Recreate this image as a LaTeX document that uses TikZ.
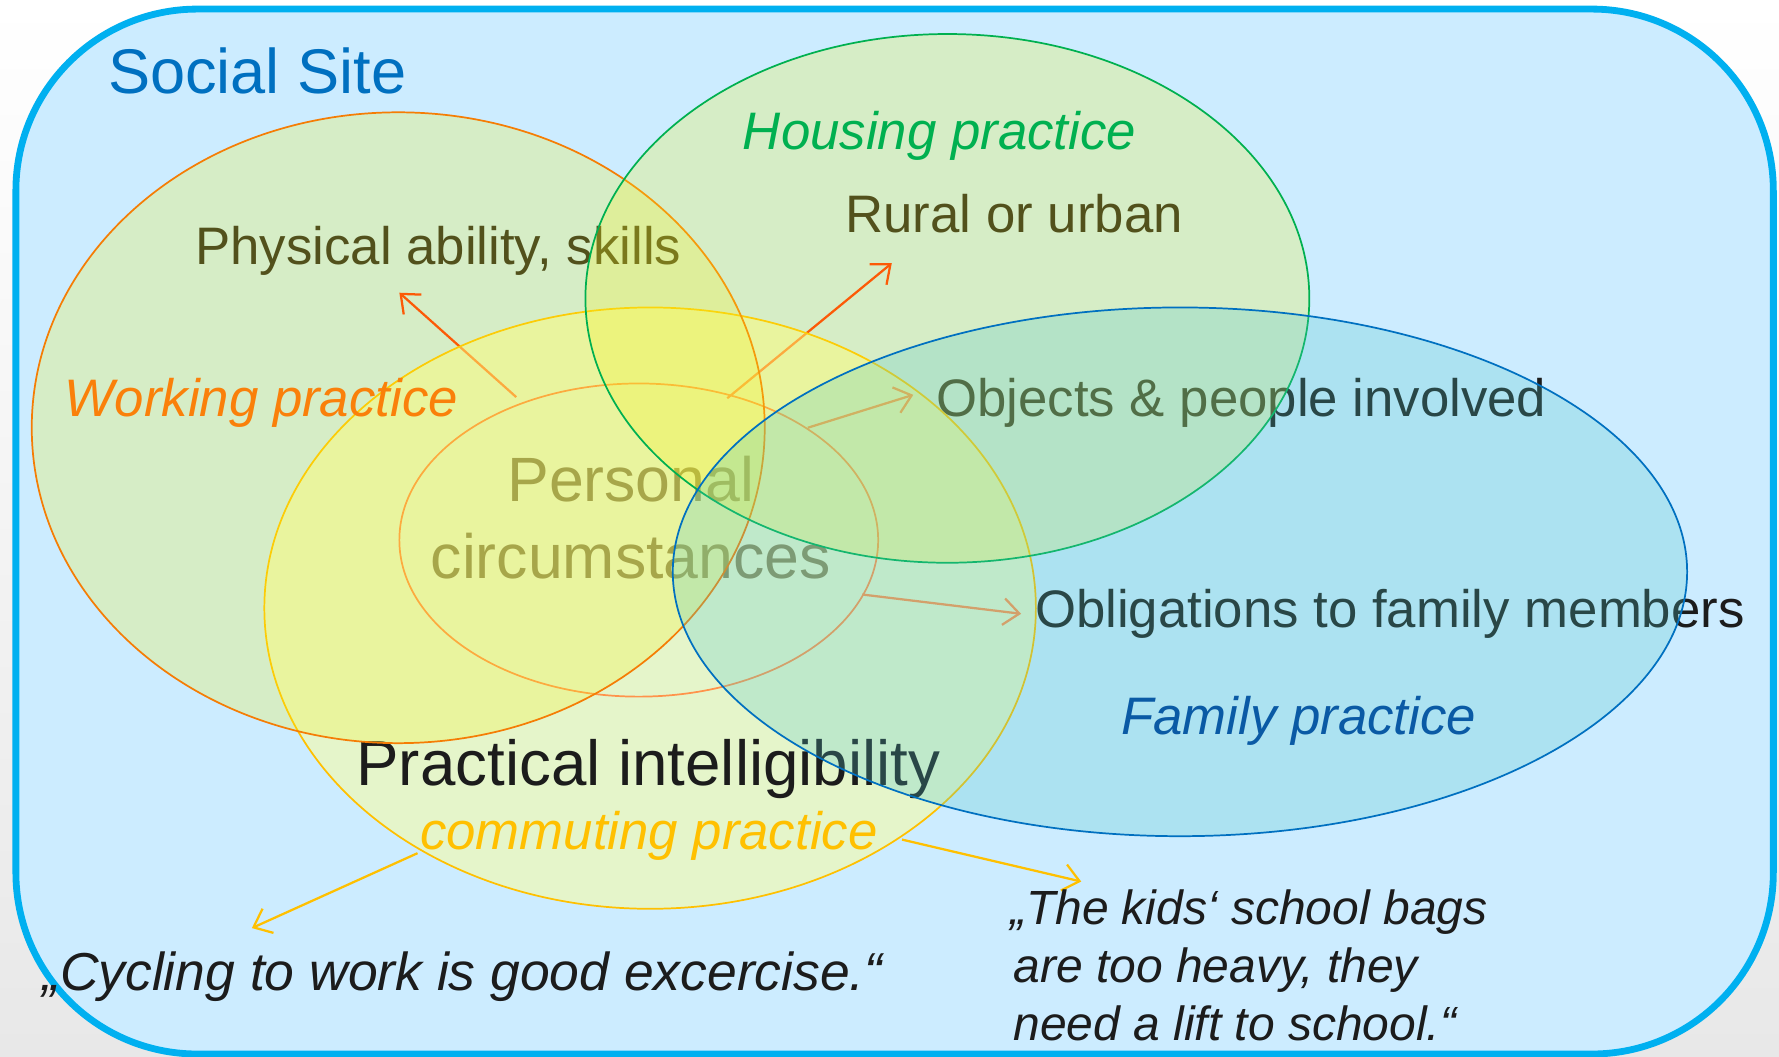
\documentclass[tikz,border=0pt]{standalone}
\usepackage{fontspec}
\setmainfont{Liberation Sans}
\usetikzlibrary{arrows.meta}
\definecolor{framecol}{RGB}{0,176,240}
\definecolor{sitebg}{RGB}{204,236,255}
\definecolor{sitetext}{RGB}{0,112,192}
\definecolor{housecol}{RGB}{0,176,80}
\definecolor{workcol}{RGB}{245,125,5}
\definecolor{worktext}{RGB}{250,128,10}
\definecolor{famcol}{RGB}{0,112,192}
\definecolor{famtext}{RGB}{10,90,165}
\definecolor{commcol}{RGB}{255,192,0}
\definecolor{warmfill}{RGB}{246,242,30}
\definecolor{famfill}{RGB}{80,200,203}
\definecolor{commfill}{RGB}{255,255,150}
\definecolor{redline}{RGB}{255,40,0}
\definecolor{ink}{RGB}{28,28,28}
\definecolor{pagetop}{RGB}{255,255,255}
\definecolor{pagebot}{RGB}{232,232,232}
\begin{document}
\begin{tikzpicture}[x=0.03cm,y=-0.03cm,
  txt/.style={font=\fontsize{39.7}{47}\selectfont, text=ink, inner sep=0pt},
  bigtxt/.style={font=\fontsize{47.1}{56}\selectfont, text=ink, inner sep=0pt},
  practicelabel/.style={font=\fontsize{39.7}{47}\selectfont\itshape, inner sep=0pt},
  quotetext/.style={font=\fontsize{36.1}{43.5}\selectfont\itshape, text=ink, inner sep=0pt},
  redarrow/.style={draw=redline, line width=1.7pt, -{Straight Barb[length=12pt,width=20pt,line width=1.7pt]}},
  commarrow/.style={draw=commcol, line width=1.7pt, -{Straight Barb[length=12pt,width=20pt,line width=1.7pt]}},
  venn/.style={line width=1.3pt}
]
\useasboundingbox (0,0) rectangle (1568,931.6);
\shade[top color=pagetop,bottom color=pagebot] (0,0) rectangle (1568,931.6);
% social site frame
\draw[framecol, line width=0.18cm, fill=sitebg, rounded corners=4.8cm] (14,8) rectangle (1563,929);

% texts lying beneath the translucent practice ellipses
\node[txt, anchor=base west] (physical) at (172,233) {Physical ability, skills};
\node[txt, anchor=base west] (rural) at (745,205) {Rural or urban};
\node[txt, anchor=base west] (objects) at (825,367) {Objects \& people involved};
\node[txt, anchor=base west] (obligations) at (912,553) {Obligations to family members};
\node[bigtxt, anchor=base] (personal) at (556,442) {Personal};
\node[bigtxt, anchor=base] (circum) at (556,510) {circumstances};

% arrows out of personal circumstances
\coordinate (aTail) at (455,350); \coordinate (aHead) at (352,258);
\coordinate (bTail) at (641,351); \coordinate (bHead) at (786,232);
\coordinate (cTail) at (712,377); \coordinate (cHead) at (805,348);
\coordinate (dTail) at (760,524); \coordinate (dHead) at (900,541);
\draw[redarrow] (aTail) -- (aHead);
\draw[redarrow] (bTail) -- (bHead);
\draw[redarrow] (cTail) -- (cHead);
\draw[redarrow] (dTail) -- (dHead);

% personal circumstances ellipse
\coordinate (innerC) at (563,476);
\draw[redline, venn] (innerC) ellipse [x radius=6.33cm, y radius=4.14cm];

% commuting practice
\coordinate (commC) at (573,536);
\draw[commcol, venn, fill=commfill, fill opacity=0.5] (commC) ellipse [x radius=10.2cm, y radius=7.95cm];
\node[bigtxt, font=\fontsize{47.9}{56}\selectfont, anchor=base west] (practical) at (314,692) {Practical intelligibility};

% working practice
\coordinate (workC) at (351,377);
\draw[workcol, venn, fill=warmfill, fill opacity=0.25] (workC) ellipse [x radius=9.69cm, y radius=8.34cm];
% housing practice
\coordinate (houseC) at (835,263);
\draw[housecol, venn, fill=warmfill, fill opacity=0.25] (houseC) ellipse [x radius=9.57cm, y radius=6.99cm];
% family practice
\coordinate (famC) at (1040,504);
\draw[famcol, venn, fill=famfill, fill opacity=0.25] (famC) ellipse [x radius=13.41cm, y radius=6.99cm];

% labels on top
\node[anchor=base west, inner sep=0pt, text=sitetext, font=\fontsize{47.5}{56}\selectfont] (site) at (95,82) {Social Site};
\node[practicelabel, text=housecol, anchor=base] (housing) at (828,132) {Housing practice};
\node[practicelabel, text=worktext, anchor=base west] (working) at (57,367) {Working practice};
\node[practicelabel, text=famtext, anchor=base west] (family) at (988,647) {Family practice};
\node[practicelabel, text=commcol, anchor=base west] (commuting) at (370,749) {commuting practice};

% quotes
\coordinate (eTail) at (368,752); \coordinate (eHead) at (222,818);
\coordinate (fTail) at (795,740); \coordinate (fHead) at (953,777);
\draw[commarrow] (eTail) -- (eHead);
\draw[commarrow] (fTail) -- (fHead);
\node[quotetext, font=\fontsize{40.2}{48}\selectfont\itshape, anchor=base west] (cycling) at (37,873) {„Cycling to work is good excercise.“};
\node[quotetext, anchor=base west] (kidsA) at (890,815) {„The kids‘ school bags};
\node[quotetext, anchor=base west] (kidsB) at (893,866) {are too heavy, they};
\node[quotetext, anchor=base west] (kidsC) at (893,917) {need a lift to school.“};
\end{tikzpicture}
\end{document}
